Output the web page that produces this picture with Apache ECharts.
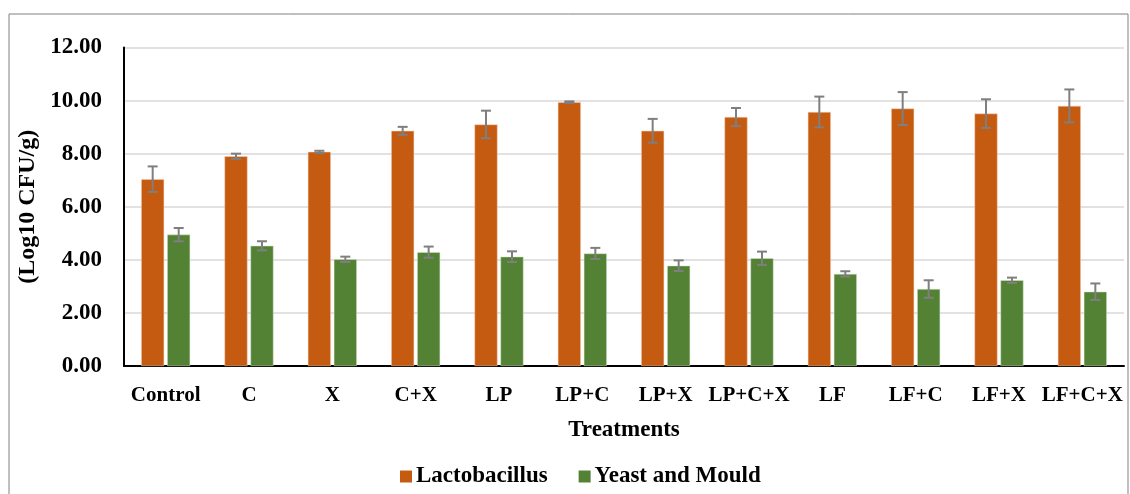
<!DOCTYPE html>
<html>
<head>
<meta charset="utf-8">
<script src="https://cdn.jsdelivr.net/npm/echarts@6/dist/echarts.min.js"></script>
<style>
  html, body { margin: 0; padding: 0; background: #fff; }
  #main { width: 1130px; height: 494px; }
</style>
</head>
<body>
<div id="main"></div>
<script>
var treatments = ['Control', 'C', 'X', 'C+X', 'LP', 'LP+C', 'LP+X', 'LP+C+X', 'LF', 'LF+C', 'LF+X', 'LF+C+X'];
var lactobacillus = [7.04, 7.90, 8.07, 8.86, 9.10, 9.94, 8.86, 9.38, 9.57, 9.70, 9.51, 9.80];
var lactoErr = [0.48, 0.10, 0.04, 0.15, 0.52, 0.03, 0.45, 0.34, 0.58, 0.62, 0.54, 0.62];
var yeastMould = [4.95, 4.53, 4.02, 4.29, 4.12, 4.24, 3.78, 4.06, 3.47, 2.90, 3.23, 2.80];
var yeastErr = [0.25, 0.17, 0.10, 0.21, 0.20, 0.21, 0.20, 0.25, 0.10, 0.33, 0.10, 0.31];

var serif = '"Liberation Serif", "Times New Roman", serif';

function errorBars(values, errs, offset) {
    return {
        type: 'custom',
        silent: true,
        z: 5,
        data: values.map(function (v, i) { return [i, v - errs[i], v + errs[i]]; }),
        encode: { x: 0, y: [1, 2] },
        renderItem: function (params, api) {
            var lo = api.coord([api.value(0), api.value(1)]);
            var hi = api.coord([api.value(0), api.value(2)]);
            var x = lo[0] + offset;
            var cap = 5;
            var style = { stroke: '#7f7f7f', lineWidth: 2 };
            return {
                type: 'group',
                children: [
                    { type: 'line', shape: { x1: x, y1: lo[1], x2: x, y2: hi[1] }, style: style },
                    { type: 'line', shape: { x1: x - cap, y1: lo[1], x2: x + cap, y2: lo[1] }, style: style },
                    { type: 'line', shape: { x1: x - cap, y1: hi[1], x2: x + cap, y2: hi[1] }, style: style }
                ]
            };
        }
    };
}

var chart = echarts.init(document.getElementById('main'));

var option = {
    backgroundColor: '#fff',
    animation: false,
    graphic: [{
        type: 'rect',
        shape: { x: 9, y: 14, width: 1119, height: 500 },
        style: { fill: 'none', stroke: '#808080', lineWidth: 1 },
        silent: true
    }],
    grid: { left: 124, right: 6, top: 47.5, bottom: 128 },
    legend: {
        data: ['Lactobacillus', 'Yeast and Mould'],
        left: 395,
        top: 460,
        itemWidth: 12,
        itemHeight: 12,
        itemGap: 31,
        icon: 'rect',
        itemStyle: { borderWidth: 0 },
        textStyle: { fontFamily: serif, fontWeight: 'bold', fontSize: 23, color: '#000', padding: [0, 0, 0, -1] }
    },
    xAxis: {
        type: 'category',
        data: treatments,
        name: 'Treatments',
        nameLocation: 'middle',
        nameGap: 53,
        nameTextStyle: { fontFamily: serif, fontWeight: 'bold', fontSize: 23, color: '#000' },
        axisLine: { lineStyle: { color: '#000', width: 2 } },
        axisTick: { show: false },
        axisLabel: { fontFamily: serif, fontWeight: 'bold', fontSize: 21, color: '#000', margin: 19, interval: 0 }
    },
    yAxis: {
        type: 'value',
        min: 0,
        max: 12,
        interval: 2,
        name: '(Log10 CFU/g)',
        nameLocation: 'middle',
        nameGap: 80,
        nameTextStyle: { fontFamily: serif, fontWeight: 'bold', fontSize: 24, color: '#000' },
        axisLine: { show: true, lineStyle: { color: '#000', width: 2 } },
        axisTick: { show: false },
        axisLabel: {
            fontFamily: serif, fontWeight: 'bold', fontSize: 23, color: '#000', margin: 22,
            formatter: function (v) { return v.toFixed(2); }
        },
        splitLine: { lineStyle: { color: '#d9d9d9', width: 1.5 } }
    },
    series: [
        {
            name: 'Lactobacillus',
            type: 'bar',
            data: lactobacillus,
            barWidth: 23,
            barGap: '13%',
            itemStyle: { color: '#c55a11', borderColor: '#f4d3bd', borderWidth: 0.5 }
        },
        {
            name: 'Yeast and Mould',
            type: 'bar',
            data: yeastMould,
            barWidth: 23,
            itemStyle: { color: '#548235', borderColor: '#d6e4cc', borderWidth: 0.5 }
        },
        errorBars(lactobacillus, lactoErr, -13),
        errorBars(yeastMould, yeastErr, 13)
    ]
};

chart.setOption(option);
</script>
</body>
</html>
